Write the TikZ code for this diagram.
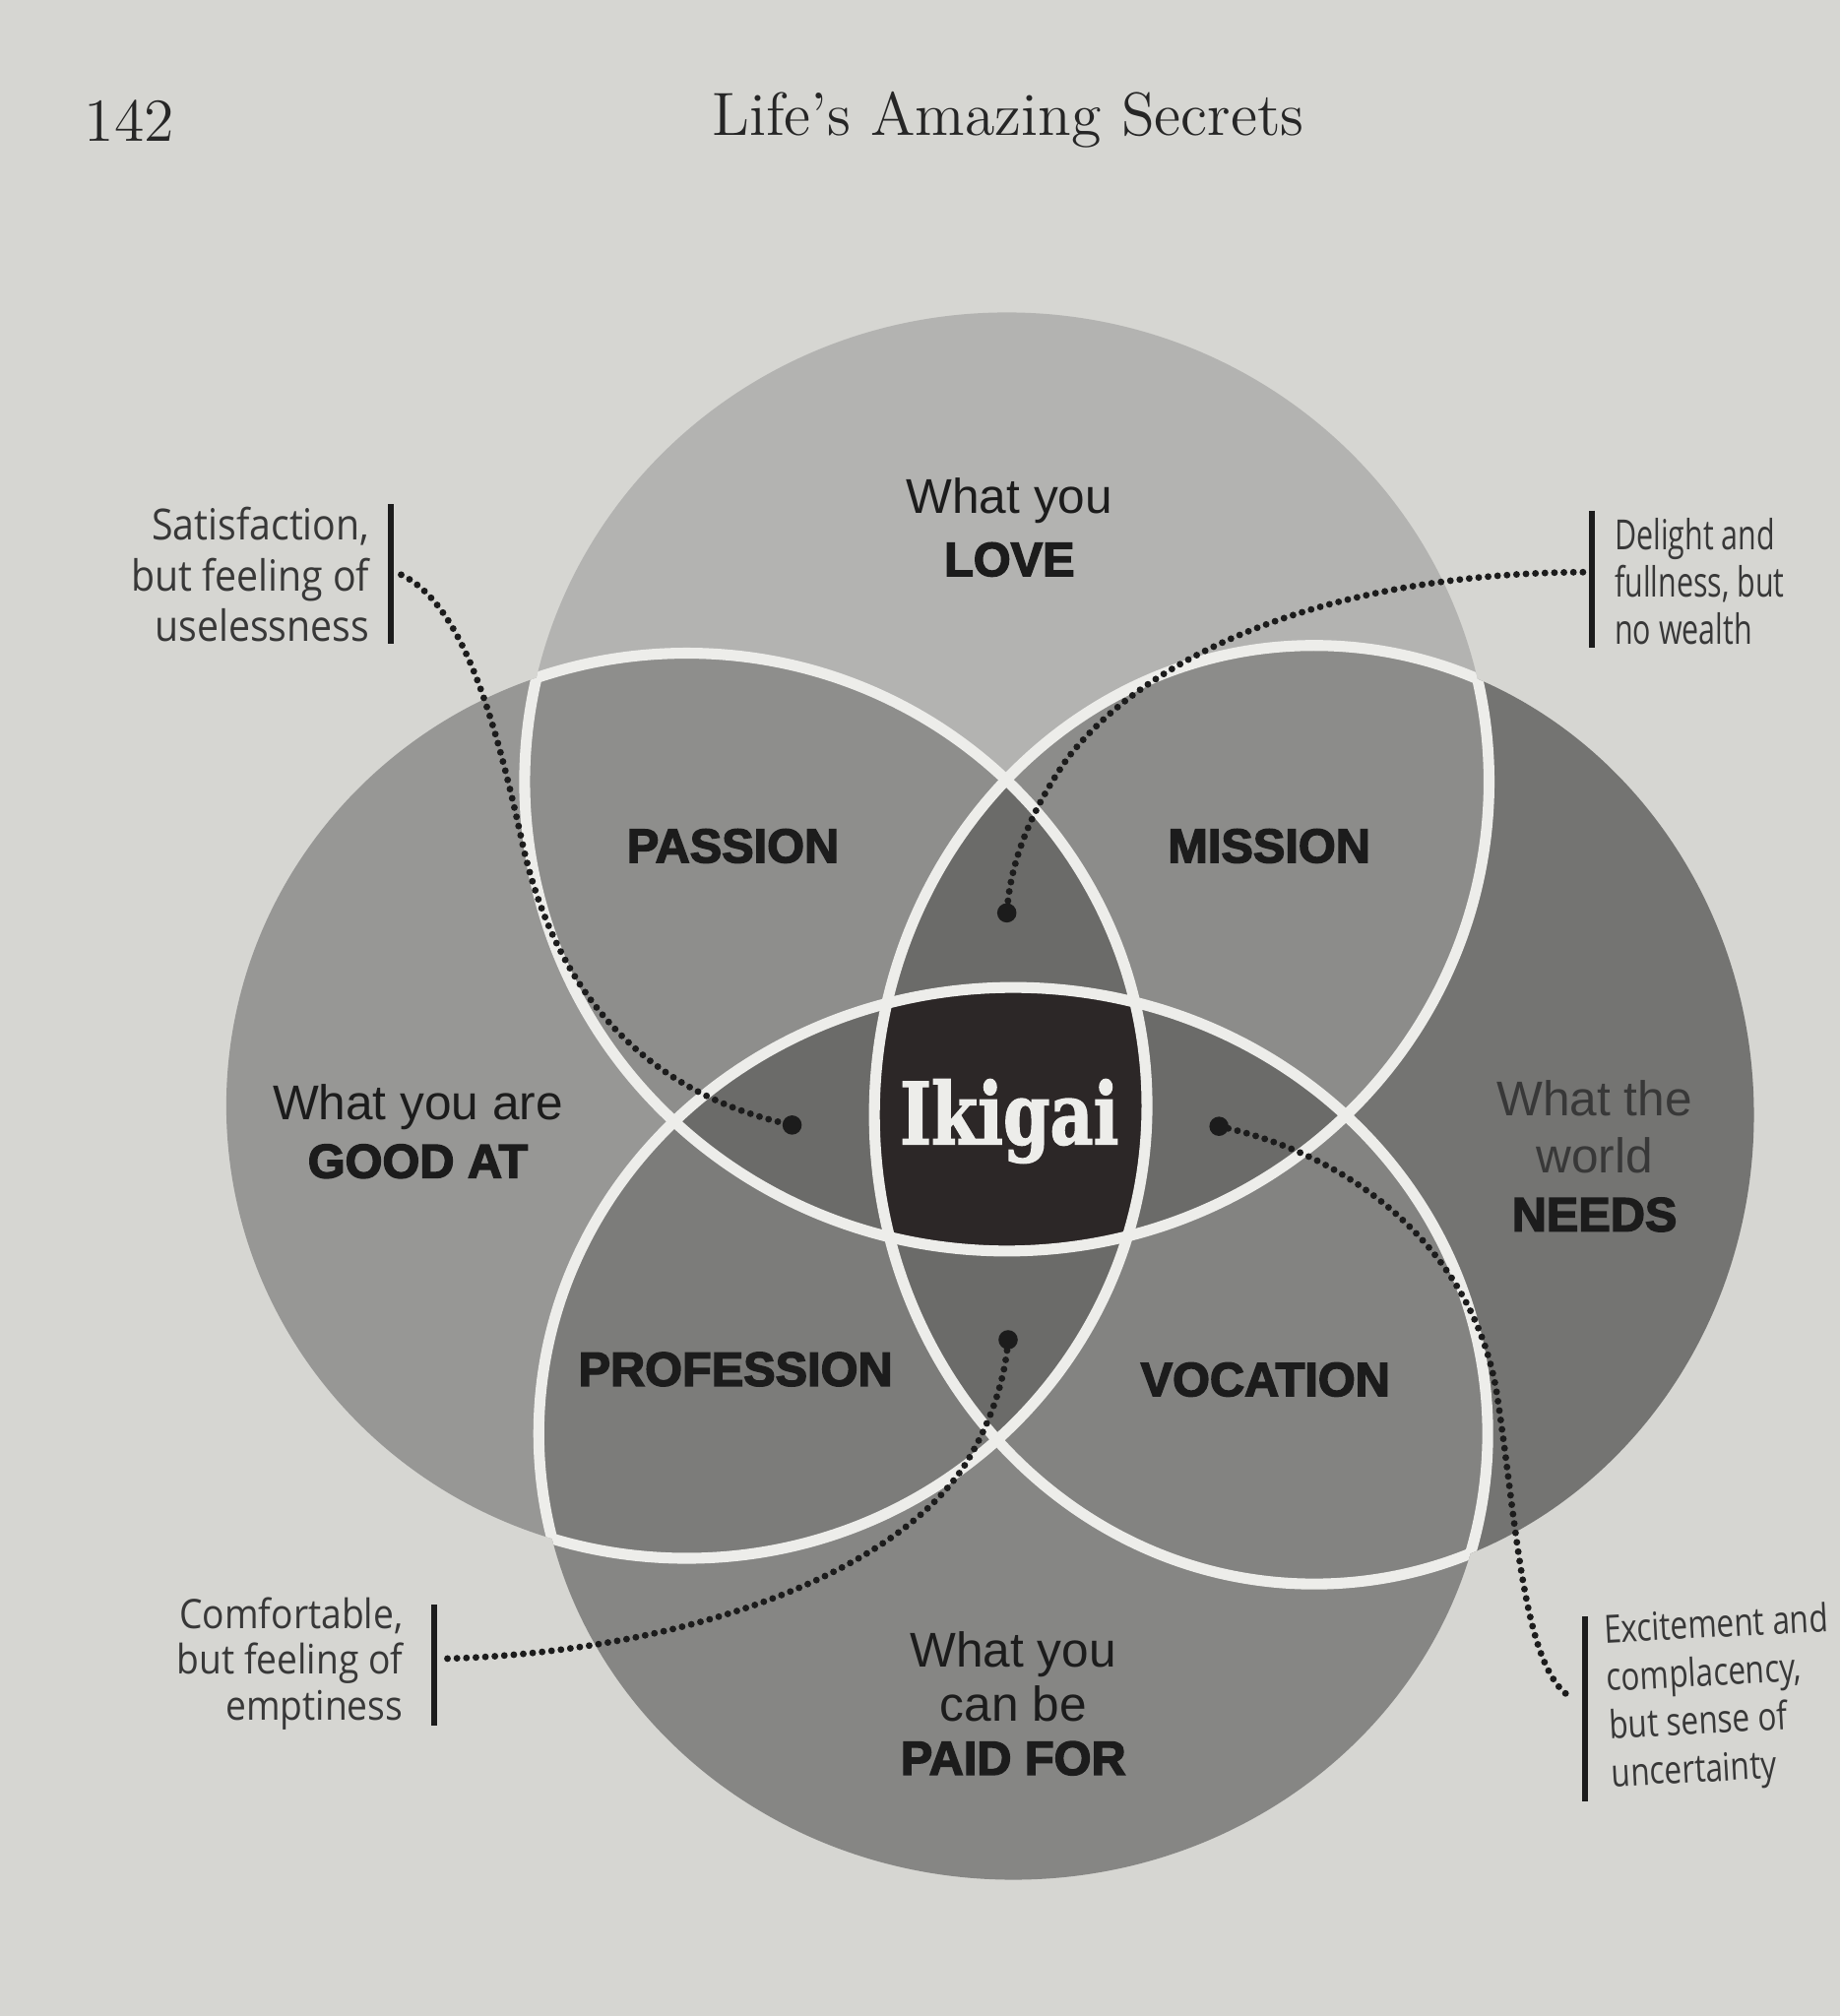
\documentclass[tikz,border=0pt]{standalone}
\usepackage{fontspec}
\usepackage{graphicx}
\newfontfamily\lblfont{Liberation Sans}
\newfontfamily\heavyfont[FakeBold=3]{Liberation Sans}
\newfontfamily\notefont[FakeStretch=0.9]{Open Sans}
\newfontfamily\notefontn[FakeStretch=0.72]{Open Sans}
\newfontfamily\notefontr[FakeStretch=0.8]{Open Sans}
\newfontfamily\slabfont[FakeStretch=0.78,FakeBold=1.5]{DejaVu Serif}
\definecolor{paper}{HTML}{D6D6D2}
\definecolor{cT}{HTML}{B3B3B1}
\definecolor{cL}{HTML}{979795}
\definecolor{cR}{HTML}{747472}
\definecolor{cB}{HTML}{868684}
\definecolor{cTL}{HTML}{8E8E8C}
\definecolor{cTR}{HTML}{8C8C8A}
\definecolor{cLB}{HTML}{7C7C7A}
\definecolor{cRB}{HTML}{838381}
\definecolor{cThree}{HTML}{6B6B69}
\definecolor{cIk}{HTML}{2C2727}
\definecolor{wline}{HTML}{EDEDEA}
\definecolor{ink}{HTML}{1C1C1C}
\definecolor{notecol}{HTML}{383838}
\newcommand\ikT{(783,608) ellipse [x radius=37.5mm, y radius=36.5mm]}
\newcommand\ikL{(534,860) ellipse [x radius=35.8mm, y radius=35.2mm]}
\newcommand\ikR{(1022,867) ellipse [x radius=34.2mm, y radius=36.5mm]}
\newcommand\ikB{(788,1115) ellipse [x radius=36.9mm, y radius=34.7mm]}
\begin{document}
\begin{tikzpicture}[x=0.1mm,y=-0.1mm,
  wstroke/.style={draw=wline,line width=0.85mm},
  region/.style={font=\lblfont\fontsize{10.8}{12.8}\selectfont,text=ink,align=center,inner sep=0},
  heavylbl/.style={font=\heavyfont\bfseries\fontsize{10.6}{12.8}\selectfont,text=ink,inner sep=0},
  note/.style={font=\notefont\fontsize{9.5}{11.2}\selectfont,text=notecol,inner sep=0},
  enddot/.style={circle,fill=ink,inner sep=0,minimum size=1.5mm},
  dotline/.style={draw=ink,line width=1.5pt,dash pattern=on 0pt off 2.1pt,line cap=round},
  bar/.style={draw=ink,line width=1.3pt},
  header/.style={font=\fontsize{13.5}{16}\selectfont,text=black!85,inner sep=0}]
\fill[paper] (0,0) rectangle (1431,1568);
\useasboundingbox (0,0) rectangle (1431,1568);
% circles
\fill[cT] \ikT;
\fill[cL] \ikL;
\fill[cR] \ikR;
\fill[cB] \ikB;
\begin{scope}\clip \ikT; \fill[cTL] \ikL; \fill[cTR] \ikR; \end{scope}
\begin{scope}\clip \ikB; \fill[cLB] \ikL; \fill[cRB] \ikR; \end{scope}
\begin{scope}\clip \ikT; \clip \ikL; \fill[cThree] \ikR; \fill[cThree] \ikB; \end{scope}
\begin{scope}\clip \ikR; \clip \ikB; \fill[cThree] \ikT; \fill[cThree] \ikL; \end{scope}
\begin{scope}\clip \ikT; \clip \ikL; \clip \ikR; \fill[cIk] \ikB; \end{scope}
% white outlines inside the other circles
\begin{scope}\clip \ikL \ikR \ikB; \draw[wstroke] \ikT; \end{scope}
\begin{scope}\clip \ikT \ikR \ikB; \draw[wstroke] \ikL; \end{scope}
\begin{scope}\clip \ikT \ikL \ikB; \draw[wstroke] \ikR; \end{scope}
\begin{scope}\clip \ikT \ikL \ikR; \draw[wstroke] \ikB; \end{scope}
% header
\node[header,anchor=base west] (page) at (65,110) {142};
\node[header,anchor=base] (title) at (784,105) {Life’s Amazing Secrets};
% region labels
\node[region,font=\lblfont\fontsize{10.8}{13.9}\selectfont] (love) at (785,410) {What you\\{\heavyfont\bfseries\fontsize{10.6}{13.9}\selectfont LOVE}};
\node[region] (good) at (325,880) {What you are\\{\heavyfont\bfseries\fontsize{10.6}{12.8}\selectfont GOOD AT}};
\node[region,text=black!78] (needs) at (1240,899) {What the\\world\\{\heavyfont\bfseries\fontsize{10.6}{12.8}\selectfont\color{ink}NEEDS}};
\node[region,font=\lblfont\fontsize{10.8}{11.9}\selectfont] (paid) at (788,1325) {What you\\can be\\{\heavyfont\bfseries\fontsize{10.6}{11.9}\selectfont PAID FOR}};
\node[heavylbl] (passion) at (570,658) {PASSION};
\node[heavylbl] (mission) at (987,658) {MISSION};
\node[heavylbl] (profession) at (572,1065) {PROFESSION};
\node[heavylbl] (vocation) at (984,1073) {VOCATION};
\node[font=\slabfont\bfseries\fontsize{19}{22}\selectfont,text=wline,inner sep=0,anchor=base] (ikigai) at (785,890) {Ikigai};
% annotations
\node[note,anchor=east,align=right] (n1) at (288,447) {Satisfaction,\\but feeling of\\uselessness};
\node[note,font=\notefontn\fontsize{9.2}{10.5}\selectfont,anchor=west,align=left] (n2) at (1255,452) {Delight and\\fullness, but\\no wealth};
\node[note,font=\notefont\fontsize{9}{10.2}\selectfont,anchor=east,align=right] (n3) at (314,1294) {Comfortable,\\but feeling of\\emptiness};
\node[note,font=\notefontr\fontsize{8.6}{10.6}\selectfont,anchor=west,align=left,rotate=3] (n4) at (1250,1326) {Excitement and\\complacency,\\but sense of\\uncertainty};
% bars
\coordinate (b1t) at (304,392); \coordinate (b1b) at (304,501);
\coordinate (b2t) at (1238,397); \coordinate (b2b) at (1238,504);
\coordinate (b3t) at (338,1248); \coordinate (b3b) at (338,1342);
\coordinate (b4t) at (1233,1257); \coordinate (b4b) at (1233,1401);
\draw[bar] (b1t) -- (b1b);
\draw[bar] (b2t) -- (b2b);
\draw[bar] (b3t) -- (b3b);
\draw[bar] (b4t) -- (b4b);
% end dots
\node[enddot] (d1) at (616,875) {};
\node[enddot] (d2) at (783,710) {};
\node[enddot] (d3) at (784,1042) {};
\node[enddot] (d4) at (948,876) {};
\coordinate (e1) at (312,447);
\coordinate (e2) at (1231,445);
\coordinate (e3) at (348,1290);
\coordinate (e4) at (1223,1321);
% dotted connectors
\draw[dotline] (e1) .. controls (360,470) and (385,560) .. (405,650) .. controls (430,770) and (500,850) .. (d1.center);
\draw[dotline] (e2) .. controls (1050,446) and (900,500) .. (830,590) .. controls (795,640) and (785,680) .. (d2.center);
\draw[dotline] (e3) .. controls (520,1285) and (690,1230) .. (750,1140) .. controls (772,1105) and (782,1070) .. (d3.center);
\draw[dotline] (d4.center) .. controls (1060,900) and (1150,980) .. (1165,1090) .. controls (1180,1190) and (1185,1300) .. (e4);
\end{tikzpicture}
\end{document}
